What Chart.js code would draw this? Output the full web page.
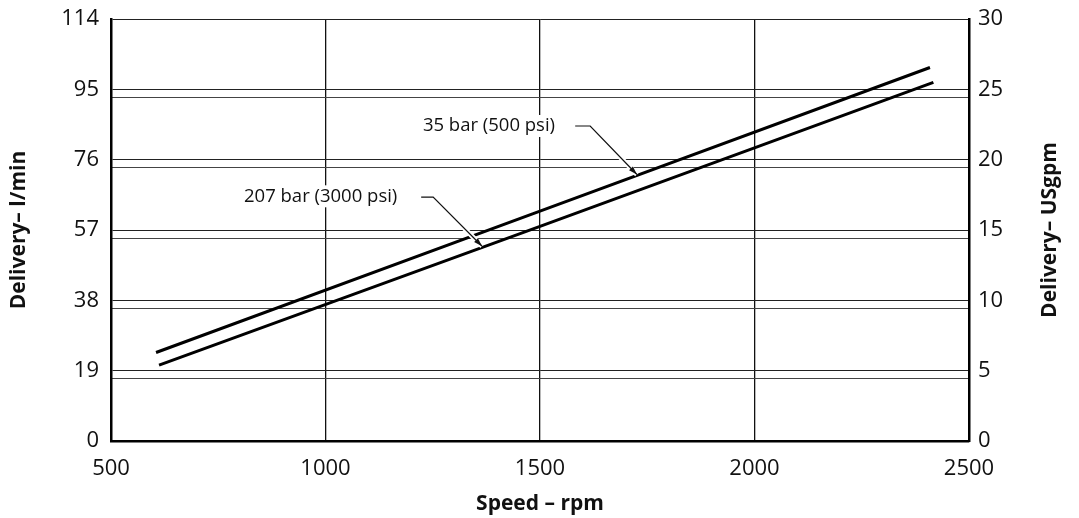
<!DOCTYPE html>
<html>
<head>
<meta charset="utf-8">
<script src="https://cdn.jsdelivr.net/npm/chart.js@4"></script>
<style>
  html, body { margin: 0; padding: 0; background: #fff; }
  #wrap { width: 1079px; height: 518px; }
</style>
</head>
<body>
<div id="wrap"><canvas id="deliveryChart"></canvas></div>
<script>
// Delivery vs speed, two pressure curves
const speed35 = [605, 1500, 2409];
const delivery35 = [23.9, 62.1, 100.9];
const speed207 = [612, 1500, 2417];
const delivery207 = [20.5, 58.0, 96.9];

const litreTicks = [0, 19, 38, 57, 76, 95, 114];
const gallonTicks = [0, 5, 10, 15, 20, 25, 30];
const rpmTicks = [500, 1000, 1500, 2000, 2500];

// second line of each grid pair sits a little below the l/min line
const gridOffset = 2.2;

// callout labels: text position, leader bend and arrow tip, in rpm / l/min
const callouts = [
    { text: '35 bar (500 psi)', at: [1227, 85.1], from: [1582, 85.1], bend: [1617, 85.1], tip: [1726, 72.0] },
    { text: '207 bar (3000 psi)', at: [810, 66.1], from: [1223, 65.9], bend: [1251, 65.9], tip: [1365, 52.6] }
];

const FONT = "'Open Sans', 'Noto Sans', sans-serif";

const calloutPlugin = {
    id: 'callouts',
    afterDatasetsDraw(chart) {
        const { ctx, scales } = chart;
        const px = v => scales.x.getPixelForValue(v);
        const py = v => scales.y.getPixelForValue(v);
        ctx.save();
        callouts.forEach(c => {
            const pts = [c.from, c.bend, c.tip].map(p => [px(p[0]), py(p[1])]);
            // white halo so the leader cuts through grid and curves
            [['#fff', 5], ['#111', 1.2]].forEach(([col, w]) => {
                ctx.strokeStyle = col;
                ctx.lineWidth = w;
                ctx.beginPath();
                ctx.moveTo(pts[0][0], pts[0][1]);
                ctx.lineTo(pts[1][0], pts[1][1]);
                ctx.lineTo(pts[2][0], pts[2][1]);
                ctx.stroke();
            });
            // arrow head
            const [bx, by] = pts[1], [tx, ty] = pts[2];
            const ang = Math.atan2(ty - by, tx - bx);
            ctx.fillStyle = '#111';
            ctx.beginPath();
            ctx.moveTo(tx, ty);
            ctx.lineTo(tx - 9 * Math.cos(ang - 0.3), ty - 9 * Math.sin(ang - 0.3));
            ctx.lineTo(tx - 9 * Math.cos(ang + 0.3), ty - 9 * Math.sin(ang + 0.3));
            ctx.closePath();
            ctx.fill();

            // label with white backing
            ctx.font = '18.5px ' + FONT;
            ctx.textBaseline = 'middle';
            ctx.textAlign = 'left';
            const x = px(c.at[0]), y = py(c.at[1]);
            const w = ctx.measureText(c.text).width;
            ctx.fillStyle = '#fff';
            ctx.fillRect(x - 2, y - 11, w + 4, 22);
            ctx.fillStyle = '#111';
            ctx.fillText(c.text, x, y);
        });

        // right axis title reads bottom-to-top like the left one
        ctx.translate(1050, (chart.chartArea.top + chart.chartArea.bottom) / 2);
        ctx.rotate(-Math.PI / 2);
        ctx.font = 'bold 21px ' + FONT;
        ctx.textAlign = 'center';
        ctx.textBaseline = 'middle';
        ctx.fillStyle = '#111';
        ctx.fillText('Delivery– USgpm', 0, 0);
        ctx.restore();
    }
};

const lineStyle = {
    borderColor: '#000',
    borderWidth: 3,
    pointRadius: 0,
    fill: false,
    tension: 0
};

// fixed axis boxes so the plot area lands where the reference has it
const fixWidth = w => s => { s.width = w; s.paddingTop = 0; s.paddingBottom = 0; };

new Chart(document.getElementById('deliveryChart'), {
    type: 'line',
    data: {
        datasets: [
            { label: '35 bar (500 psi)', data: speed35.map((s, i) => ({ x: s, y: delivery35[i] })), ...lineStyle },
            { label: '207 bar (3000 psi)', data: speed207.map((s, i) => ({ x: s, y: delivery207[i] })), ...lineStyle }
        ]
    },
    options: {
        responsive: true,
        maintainAspectRatio: false,
        animation: false,
        layout: { padding: { top: 19, left: 0, right: 0, bottom: 0 } },
        plugins: {
            legend: { display: false },
            tooltip: { enabled: false }
        },
        scales: {
            x: {
                type: 'linear',
                min: 500,
                max: 2500,
                afterBuildTicks: s => { s.ticks = rpmTicks.map(v => ({ value: v })); },
                afterFit: s => { s.height = 77; s.paddingLeft = 0; s.paddingRight = 0; },
                border: { display: true, color: '#000', width: 2.5 },
                grid: { color: '#111', lineWidth: 1.3, drawTicks: false },
                ticks: { color: '#111', padding: 15, font: { family: FONT, size: 22 }, callback: v => String(v) },
                title: {
                    display: true,
                    text: 'Speed – rpm',
                    color: '#111',
                    padding: { top: 0, bottom: 1 },
                    font: { family: FONT, size: 21, weight: 'bold' }
                }
            },
            y: {
                position: 'left',
                min: 0,
                max: 114,
                weight: 2,
                afterBuildTicks: s => { s.ticks = litreTicks.map(v => ({ value: v })); },
                afterFit: fixWidth(111),
                border: { display: true, color: '#000', width: 2.5 },
                grid: { color: '#222', lineWidth: 1, drawTicks: false },
                ticks: { color: '#111', padding: 12, font: { family: FONT, size: 22 } },
                title: {
                    display: true,
                    text: 'Delivery– l/min',
                    color: '#111',
                    padding: { top: 6, bottom: 0 },
                    font: { family: FONT, size: 21, weight: 'bold' }
                }
            },
            yPair: {
                position: 'left',
                min: gridOffset,
                max: 114 + gridOffset,
                weight: 1,
                afterBuildTicks: s => { s.ticks = litreTicks.slice(1, -1).map(v => ({ value: v })); },
                afterFit: fixWidth(0),
                border: { display: false },
                grid: { color: '#444', lineWidth: 1, drawTicks: false },
                ticks: { display: false }
            },
            y2: {
                position: 'right',
                min: 0,
                max: 30,
                afterBuildTicks: s => { s.ticks = gallonTicks.map(v => ({ value: v })); },
                afterFit: fixWidth(110),
                border: { display: true, color: '#000', width: 2.5 },
                grid: { drawOnChartArea: false, drawTicks: false },
                ticks: { color: '#111', padding: 9, font: { family: FONT, size: 22 } }
            }
        }
    },
    plugins: [calloutPlugin]
});
</script>
</body>
</html>
